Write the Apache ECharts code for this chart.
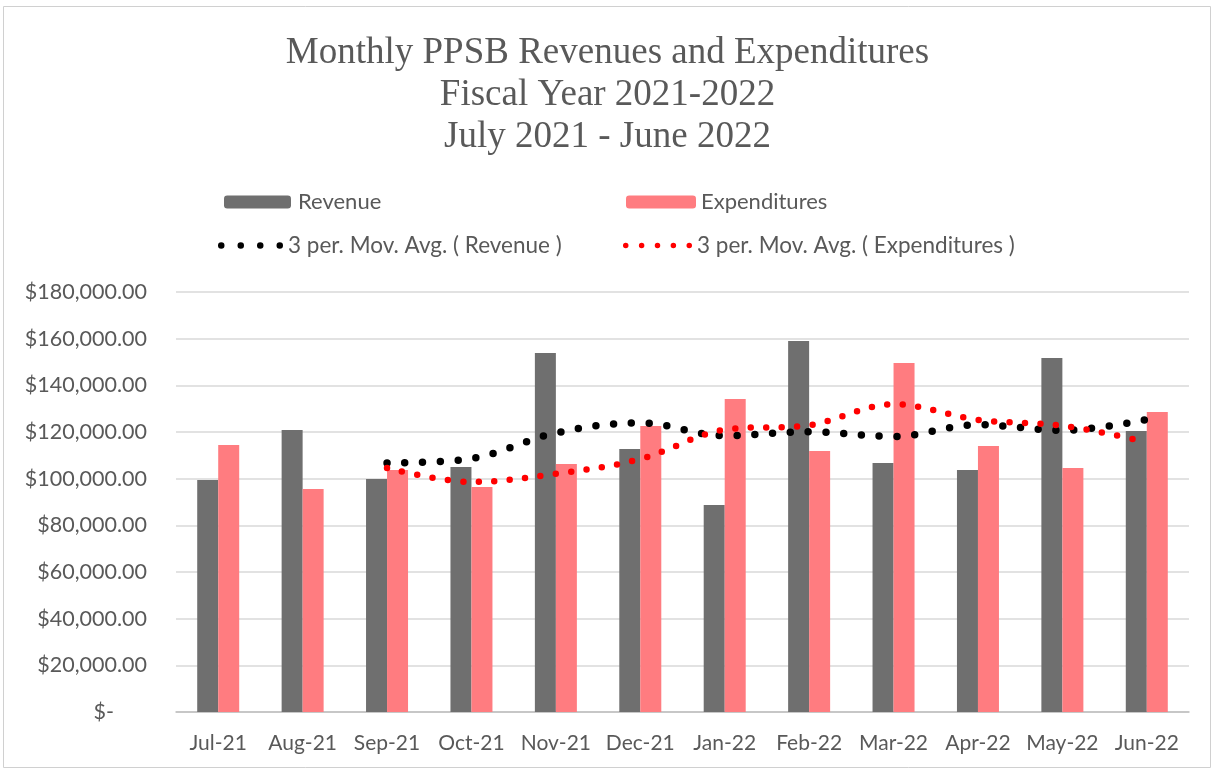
<!DOCTYPE html>
<html>
<head>
<meta charset="utf-8">
<script src="https://cdn.jsdelivr.net/npm/echarts@6/dist/echarts.min.js"></script>
<style>html,body{margin:0;padding:0;background:#fff}#c{width:1215px;height:771px}</style>
</head>
<body>
<div id="c"></div>
<script>
const categories = ['Jul-21','Aug-21','Sep-21','Oct-21','Nov-21','Dec-21','Jan-22','Feb-22','Mar-22','Apr-22','May-22','Jun-22'];
const revenue = [99400, 120900, 99900, 105000, 153900, 112700, 88700, 159000, 106700, 103700, 151700, 120400];
const expenditures = [114400, 95600, 103700, 96400, 106300, 122600, 134100, 111900, 149600, 114000, 104600, 128600];
// 3-period moving averages (first two periods empty)
const revenueMA = [null, null, 106700, 108600, 119600, 123900, 118400, 120100, 118100, 123100, 120700, 125300];
const expendituresMA = [null, null, 104600, 98600, 102100, 108400, 121000, 122900, 131900, 125200, 122700, 115700];
const titleLines = ['Monthly PPSB Revenues and Expenditures', 'Fiscal Year 2021-2022', 'July 2021 - June 2022'];

const chart = echarts.init(document.getElementById('c'), null, {renderer: 'canvas'});
const textColor = '#595959';
const sansFont = 'Lato';
function fmt(v) {
  if (v === 0) return '$-      ';
  return '$' + v.toLocaleString('en-US', {minimumFractionDigits: 2, maximumFractionDigits: 2});
}
function dotsPath(n, r, step) {
  let d = 'path://';
  for (let i = 0; i < n; i++) {
    const cx = r + i * step;
    d += 'M' + (cx - r) + ',' + r + ' a' + r + ',' + r + ' 0 1,0 ' + (2 * r) + ',0 a' + r + ',' + r + ' 0 1,0 ' + (-2 * r) + ',0 ';
  }
  return d;
}
function legendText(pad, size) {
  return {color: textColor, fontFamily: sansFont, fontSize: size || 22, padding: [0, 0, 0, pad]};
}
chart.setOption({
  backgroundColor: '#fff',
  animation: false,
  title: {
    text: titleLines.join('\n'),
    left: 'center',
    top: 27,
    textStyle: {fontFamily: 'Liberation Serif', fontWeight: 'normal', fontSize: 37, color: textColor, lineHeight: 42}
  },
  graphic: [{
    type: 'rect', shape: {x: 3.5, y: 6.5, width: 1207, height: 761},
    style: {fill: 'none', stroke: '#d0d0d0', lineWidth: 1}, silent: true
  }],
  legend: [
    {data: ['Revenue'], left: 219, top: 186, itemWidth: 67, itemHeight: 13, selectedMode: false, textStyle: legendText(2)},
    {data: ['Expenditures'], left: 621, top: 186, itemWidth: 70, itemHeight: 13, selectedMode: false, textStyle: legendText(0)},
    {data: [{name: '3 per. Mov. Avg. ( Revenue )', icon: dotsPath(4, 3.25, 19.5)}], left: 213, top: 229,
     itemWidth: 65, itemHeight: 6.5, selectedMode: false, textStyle: legendText(0, 22.5)},
    {data: [{name: '3 per. Mov. Avg. ( Expenditures )', icon: dotsPath(5, 2.75, 15.9)}], left: 618, top: 229,
     itemWidth: 69, itemHeight: 5.5, selectedMode: false, textStyle: legendText(0, 22.5)}
  ],
  grid: {left: 176, right: 26, top: 292, bottom: 59, containLabel: false},
  xAxis: {
    type: 'category',
    data: categories,
    axisLine: {lineStyle: {color: '#bfbfbf', width: 1.5}},
    axisTick: {show: false},
    axisLabel: {color: textColor, fontFamily: sansFont, fontSize: 21, margin: 21, interval: 0, hideOverlap: false}
  },
  yAxis: {
    type: 'value',
    min: 0, max: 180000, interval: 20000,
    axisLine: {show: false},
    axisTick: {show: false},
    splitLine: {lineStyle: {color: '#d9d9d9', width: 1.5}},
    axisLabel: {color: textColor, fontFamily: sansFont, fontSize: 21.5, margin: 29, formatter: fmt}
  },
  series: [
    {name: 'Revenue', type: 'bar', data: revenue, barWidth: 21, barGap: '0%',
     itemStyle: {color: '#6f6f6f'}},
    {name: 'Expenditures', type: 'bar', data: expenditures, barWidth: 21, barGap: '0%',
     itemStyle: {color: '#ff7c80'}},
    {name: '3 per. Mov. Avg. ( Revenue )', type: 'line', data: revenueMA, smooth: 0.35,
     symbol: 'none', connectNulls: false, z: 5,
     itemStyle: {color: '#000'},
     lineStyle: {color: '#000', width: 7.5, type: [0, 17.8], cap: 'round'}},
    {name: '3 per. Mov. Avg. ( Expenditures )', type: 'line', data: expendituresMA, smooth: 0.35,
     symbol: 'none', connectNulls: false, z: 5,
     itemStyle: {color: '#ff0000'},
     lineStyle: {color: '#ff0000', width: 6.5, type: [0, 15.5], cap: 'round'}}
  ]
});
</script>
</body>
</html>
